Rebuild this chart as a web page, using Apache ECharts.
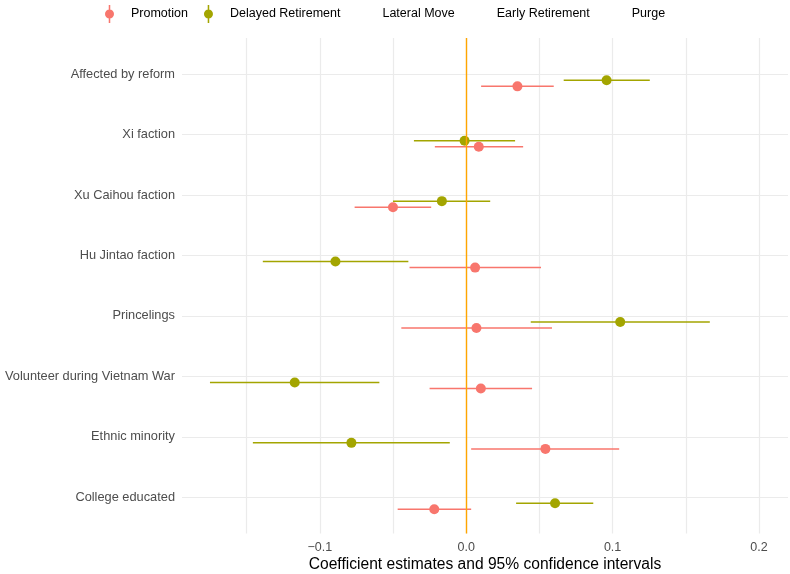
<!DOCTYPE html>
<html>
<head>
<meta charset="utf-8">
<script src="https://cdn.jsdelivr.net/npm/echarts@6/dist/echarts.min.js"></script>
<style>
html,body{margin:0;padding:0;background:#fff;}
#chart{width:790px;height:574px;}
</style>
</head>
<body>
<div id="chart"></div>
<script>
// ---- data (top to bottom as in the chart) ----
const categories = ['Affected by reform', 'Xi faction', 'Xu Caihou faction', 'Hu Jintao faction',
  'Princelings', 'Volunteer during Vietnam War', 'Ethnic minority', 'College educated'];
const legendNames = ['Promotion', 'Delayed Retirement', 'Lateral Move', 'Early Retirement', 'Purge'];

const promotionEst = [0.035, 0.0086, -0.050, 0.0061, 0.0070, 0.010, 0.0541, -0.0218];
const promotionLo  = [0.0102, -0.0214, -0.0762, -0.0387, -0.0443, -0.025, 0.0034, -0.0468];
const promotionHi  = [0.0598, 0.0389, -0.0239, 0.0511, 0.0586, 0.045, 0.1045, 0.0034];

const delayedEst = [0.0959, -0.0011, -0.0166, -0.0893, 0.1052, -0.1171, -0.0784, 0.0607];
const delayedLo  = [0.0666, -0.0357, -0.050, -0.1389, 0.0441, -0.175, -0.1457, 0.0341];
const delayedHi  = [0.1254, 0.0334, 0.0164, -0.0395, 0.1664, -0.0593, -0.0112, 0.0868];

const xTickValues = [-0.1, 0.0, 0.1, 0.2];

// ---- layout / style ----
const colors = ['#F8766D', '#A3A500', '#00BF7D', '#00B0F6', '#E76BF3'];
const dodgeStep = 0.1;  // ggplot position_dodge step (5 groups)
const N = categories.length;

function groupDodge(gi) { return (gi - 2) * dodgeStep; } // gi=0 -> -0.2, gi=1 -> -0.1

function buildData(est, lo, hi, gi) {
  return est.map((e, i) => [e, lo[i], hi[i], (N - i) + groupDodge(gi)]);
}

function renderItem(params, api) {
  const y = api.value(3);
  const p = api.coord([api.value(0), y]);
  const a = api.coord([api.value(1), y]);
  const b = api.coord([api.value(2), y]);
  const color = api.visual('color');
  return {
    type: 'group',
    children: [
      { type: 'line', shape: { x1: a[0], y1: a[1], x2: b[0], y2: b[1] },
        style: { stroke: color, lineWidth: 1.5 } },
      { type: 'circle', shape: { cx: p[0], cy: p[1], r: 5 },
        style: { fill: color } }
    ]
  };
}

const iconPath = 'path://M0,20 A10,10 0 1,1 20,20 A10,10 0 1,1 0,20 Z M8.3,0 L11.7,0 L11.7,40 L8.3,40 Z';

const seriesData = [
  buildData(promotionEst, promotionLo, promotionHi, 0),
  buildData(delayedEst, delayedLo, delayedHi, 1),
  [], [], []
];

const series = legendNames.map((name, gi) => ({
  name: name,
  type: 'custom',
  renderItem: renderItem,
  itemStyle: { color: colors[gi] },
  encode: { x: [0, 1, 2], y: 3 },
  data: seriesData[gi],
  z: 3
}));

// zero reference line
series.push({
  name: '__zero',
  type: 'line',
  data: [],
  silent: true,
  z: 2,
  markLine: {
    silent: true,
    symbol: ['none', 'none'],
    label: { show: false },
    lineStyle: { color: '#FFA500', width: 1.4, type: 'solid' },
    emphasis: { disabled: true },
    data: [{ xAxis: 0 }]
  }
});

const fontFamily = '"Liberation Sans", Arial, sans-serif';

const chart = echarts.init(document.getElementById('chart'), null, { renderer: 'canvas' });
chart.setOption({
  animation: false,
  backgroundColor: '#ffffff',
  textStyle: { fontFamily: fontFamily },
  legend: {
    top: 5,
    left: 105,
    padding: 0,
    itemWidth: 33,
    itemHeight: 18,
    itemGap: 16,
    symbolKeepAspect: true,
    selectedMode: false,
    textStyle: { fontSize: 12.5, color: '#000000', fontFamily: fontFamily },
    data: legendNames.map((n, gi) => gi < 2
      ? { name: n, icon: iconPath }
      : { name: n, icon: iconPath, itemStyle: { opacity: 0 } })
  },
  grid: {
    left: 182, right: 2, top: 38, bottom: 40.5,
    containLabel: false,
    outerBoundsMode: 'none'
  },
  xAxis: {
    type: 'value',
    min: -0.1941,
    max: 0.2198,
    splitNumber: 8,
    axisLine: { show: false },
    axisTick: { show: false },
    splitLine: { show: true, showMinLine: false, showMaxLine: false,
      lineStyle: { color: '#EBEBEB', width: 1.2 } },
    axisLabel: {
      showMinLabel: false, showMaxLabel: false,
      margin: 8,
      fontSize: 12.5,
      color: '#4D4D4D',
      fontFamily: fontFamily,
      formatter: function (v) {
        const match = xTickValues.find(t => Math.abs(t - v) < 1e-6);
        if (match === undefined) return '';
        return match.toFixed(1).replace('-', '\u2212');
      }
    },
    name: 'Coefficient estimates and 95% confidence intervals',
    nameLocation: 'middle',
    nameGap: 23,
    nameMoveOverlap: false,
    nameTextStyle: { fontSize: 15.6, color: '#000000', fontFamily: fontFamily, verticalAlign: 'top' }
  },
  yAxis: {
    type: 'value',
    min: 0.4,
    max: N + 0.6,
    splitNumber: N,
    axisLine: { show: false },
    axisTick: { show: false },
    splitLine: { show: true, showMinLine: false, showMaxLine: false,
      lineStyle: { color: '#EBEBEB', width: 1.2 } },
    axisLabel: {
      showMinLabel: false, showMaxLabel: false,
      margin: 7,
      fontSize: 12.8,
      color: '#4D4D4D',
      fontFamily: fontFamily,
      formatter: function (v) {
        const r = Math.round(v);
        if (Math.abs(v - r) > 1e-6 || r < 1 || r > N) return '';
        return categories[N - r];
      }
    }
  },
  series: series
});
</script>
</body>
</html>
